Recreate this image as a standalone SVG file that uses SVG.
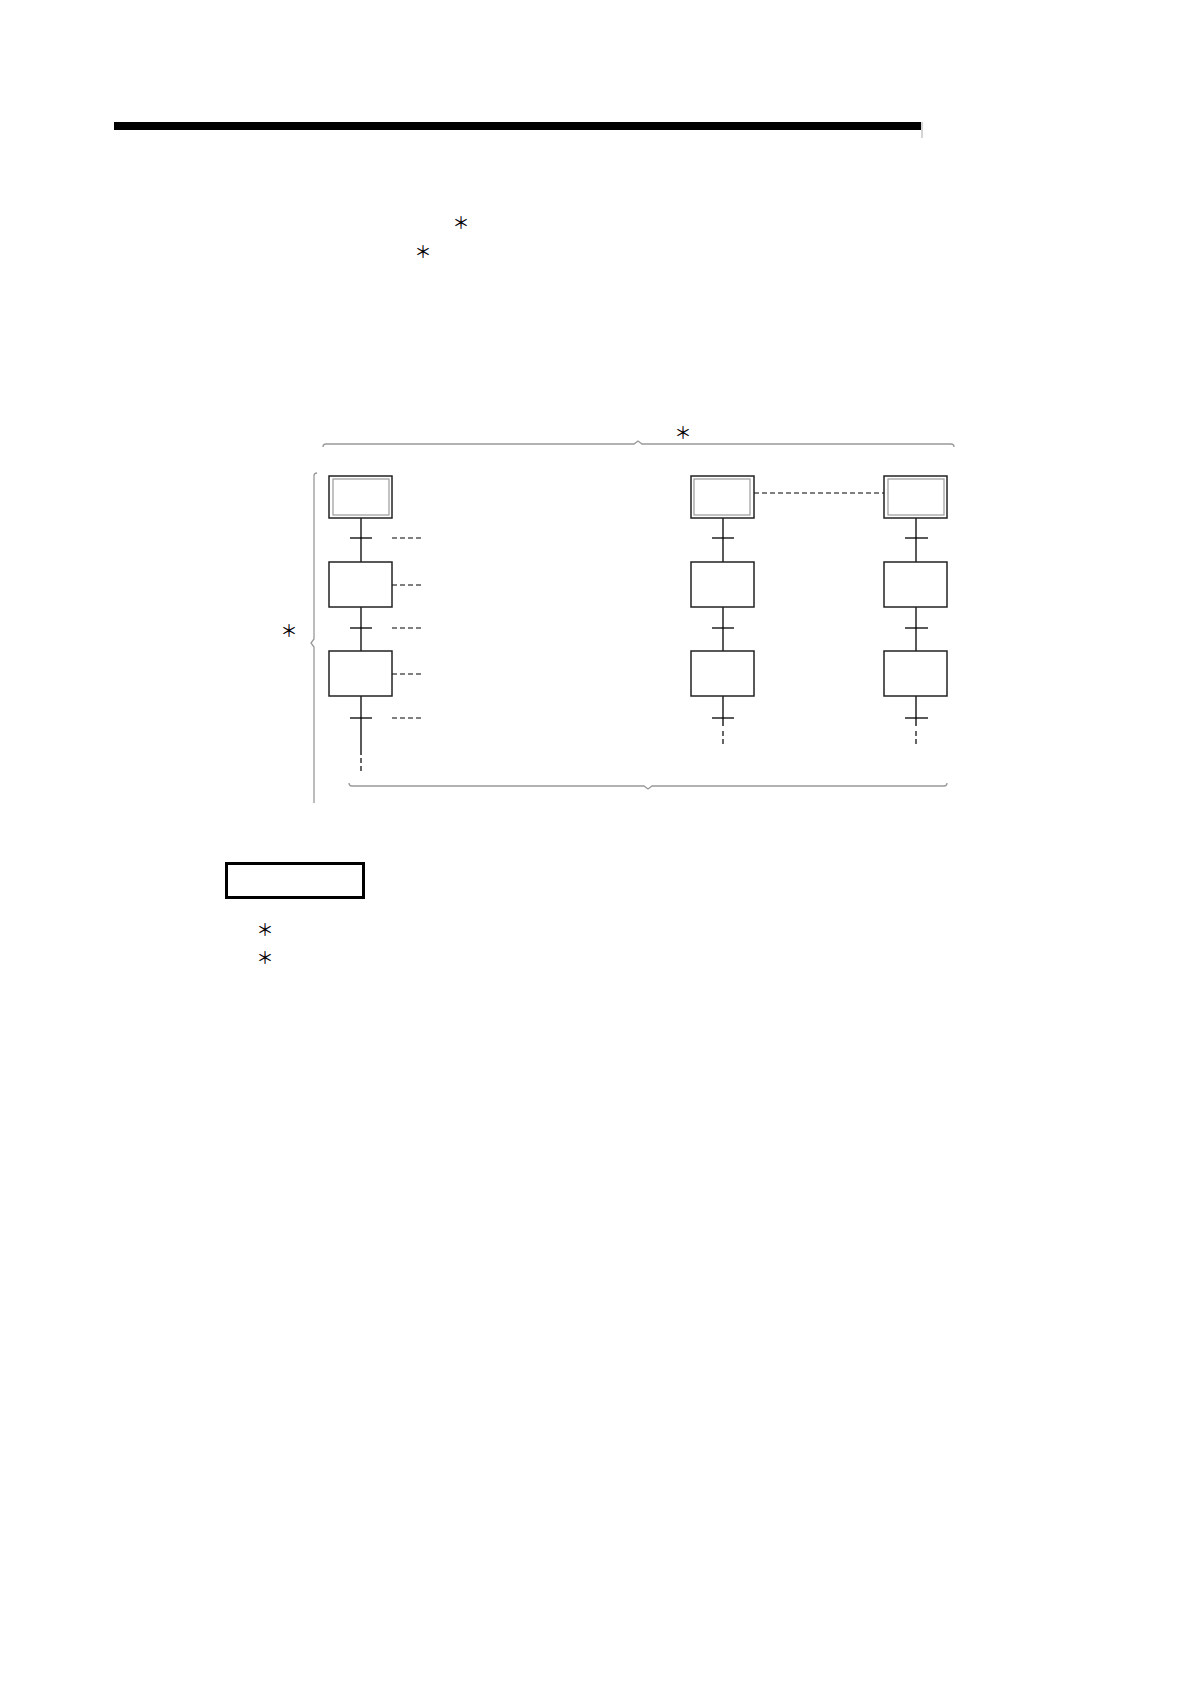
<svg xmlns="http://www.w3.org/2000/svg" width="1190" height="1684" viewBox="0 0 1190 1684">
<style>
.step{fill:#fff;stroke:#222;stroke-width:1.5}
.inner{fill:none;stroke:#999;stroke-width:1.2}
.ln{stroke:#000;stroke-width:1.3;fill:none}
.dash{stroke:#000;stroke-width:1.2;stroke-dasharray:5 3;fill:none}
.brace{stroke:#999;stroke-width:1.3;fill:none}
.ast{font-family:"Noto Sans CJK JP","Liberation Serif",serif;font-size:17px;fill:#000;text-anchor:middle}
</style>
<rect x="114" y="122" width="807" height="8" fill="#000"/>
<line x1="922" y1="122" x2="922" y2="138" stroke="#aaa" stroke-width="1"/>
<text class="ast" x="461" y="229">＊</text>
<text class="ast" x="423" y="258">＊</text>

<g id="braces">
<path class="brace" d="M323,447 Q323,444 326,444 L634,444 L638,441 L642,444 L951,444 Q954,444 954,447"/>
<path class="brace" d="M317,473 Q314,473 314,476 L314,639 L311,643 L314,647 L314,803"/>
<path class="brace" d="M349,783 Q349,786 352,786 L644,786 L648,789 L652,786 L944,786 Q947,786 947,783"/>
</g>
<text class="ast" x="683" y="439">＊</text>
<text class="ast" x="289" y="637">＊</text>

<g id="connectors">
<line class="ln" x1="361" y1="518" x2="361" y2="562"/>
<line class="ln" x1="361" y1="607" x2="361" y2="651"/>
<line class="ln" x1="361" y1="696" x2="361" y2="755"/>
<line class="dash" x1="361" y1="758" x2="361" y2="774"/>
<line class="ln" x1="350" y1="538" x2="372" y2="538"/>
<line class="ln" x1="350" y1="628" x2="372" y2="628"/>
<line class="ln" x1="350" y1="718" x2="372" y2="718"/>
<line class="dash" x1="392" y1="538" x2="422" y2="538"/>
<line class="dash" x1="392" y1="585" x2="422" y2="585"/>
<line class="dash" x1="392" y1="628" x2="422" y2="628"/>
<line class="dash" x1="392" y1="674" x2="422" y2="674"/>
<line class="dash" x1="392" y1="718" x2="422" y2="718"/>

<line class="ln" x1="723" y1="518" x2="723" y2="562"/>
<line class="ln" x1="723" y1="607" x2="723" y2="651"/>
<line class="ln" x1="723" y1="696" x2="723" y2="726"/>
<line class="dash" x1="723" y1="731" x2="723" y2="745"/>
<line class="ln" x1="712" y1="538" x2="734" y2="538"/>
<line class="ln" x1="712" y1="628" x2="734" y2="628"/>
<line class="ln" x1="712" y1="718" x2="734" y2="718"/>

<line class="ln" x1="916" y1="518" x2="916" y2="562"/>
<line class="ln" x1="916" y1="607" x2="916" y2="651"/>
<line class="ln" x1="916" y1="696" x2="916" y2="726" stroke-width="2.4"/>
<line class="dash" x1="916" y1="731" x2="916" y2="745" stroke-width="2.4"/>
<line class="ln" x1="905" y1="538" x2="928" y2="538"/>
<line class="ln" x1="905" y1="628" x2="928" y2="628"/>
<line class="ln" x1="905" y1="718" x2="928" y2="718"/>

<line class="dash" x1="754" y1="493" x2="884" y2="493"/>
</g>

<g id="init1"><rect class="step" x="329" y="476" width="63" height="42"/><rect class="inner" x="333" y="479" width="56" height="36"/></g>
<g id="step1a"><rect class="step" x="329" y="562" width="63" height="45"/></g>
<g id="step1b"><rect class="step" x="329" y="651" width="63" height="45"/></g>

<g id="init2"><rect class="step" x="691" y="476" width="63" height="42"/><rect class="inner" x="694" y="479" width="56" height="36"/></g>
<g id="step2a"><rect class="step" x="691" y="562" width="63" height="45"/></g>
<g id="step2b"><rect class="step" x="691" y="651" width="63" height="45"/></g>

<g id="init3"><rect class="step" x="884" y="476" width="63" height="42"/><rect class="inner" x="888" y="479" width="56" height="36"/></g>
<g id="step3a"><rect class="step" x="884" y="562" width="63" height="45"/></g>
<g id="step3b"><rect class="step" x="884" y="651" width="63" height="45"/></g>

<g id="note"><rect x="226.5" y="863.5" width="137" height="34" fill="none" stroke="#000" stroke-width="3"/></g>
<text class="ast" x="265" y="936">＊</text>
<text class="ast" x="265" y="964">＊</text>
</svg>
